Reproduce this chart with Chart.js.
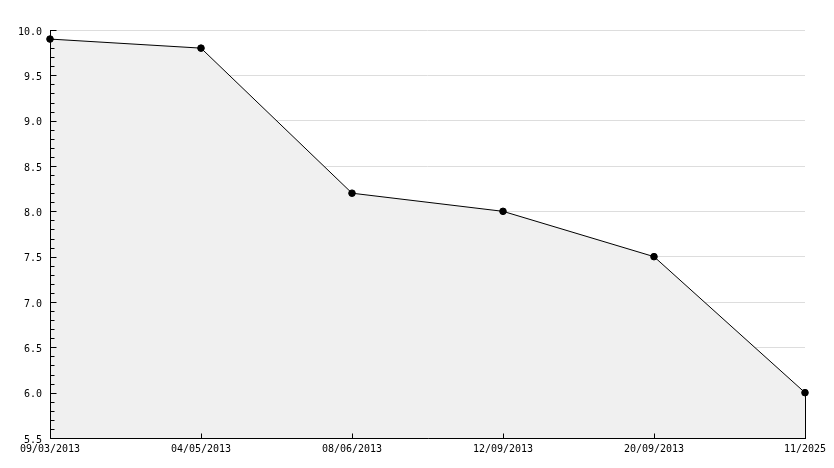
<!DOCTYPE html>
<html>
<head>
<meta charset="utf-8">
<script src="https://cdn.jsdelivr.net/npm/chart.js@4/dist/chart.umd.min.js"></script>
<style>
html,body{margin:0;padding:0;background:#fff;}
canvas{display:block;}
</style>
</head>
<body>
<canvas id="c" width="834" height="468"></canvas>
<script>
const categories = ['09/03/2013', '04/05/2013', '08/06/2013', '12/09/2013', '20/09/2013', '11/2025'];
const values = [9.9, 9.8, 8.2, 8.0, 7.5, 6.0];
const yMin = 5.5;
const yMax = 10.0;
const yMajorStep = 0.5;
const yMinorStep = 0.1;

const FONT = {family: '"DejaVu Sans Mono", monospace', size: 10};

const bgPlugin = {
  id: 'bg',
  beforeDraw(chart) {
    const ctx = chart.ctx;
    ctx.save();
    ctx.fillStyle = '#fff';
    ctx.fillRect(0, 0, chart.width, chart.height);
    ctx.restore();
  }
};

const axesPlugin = {
  id: 'axesDecor',
  afterDatasetsDraw(chart) {
    const ctx = chart.ctx;
    const a = chart.chartArea;
    const xs = chart.scales.x, ys = chart.scales.y;
    ctx.save();
    ctx.strokeStyle = '#000';
    ctx.lineWidth = 1;
    ctx.beginPath();
    const L = Math.round(a.left) + 0.5;
    const B = Math.round(a.bottom) + 0.5;
    ctx.moveTo(L, Math.round(a.top));
    ctx.lineTo(L, B);
    ctx.moveTo(L, B);
    ctx.lineTo(Math.round(a.right) + 1, B);
    const n = Math.round((yMax - yMin) / yMinorStep);
    const per = Math.round(yMajorStep / yMinorStep);
    for (let i = 0; i <= n; i++) {
      const v = yMin + i * yMinorStep;
      const py = Math.round(ys.getPixelForValue(v)) + 0.5;
      const major = (i % per) === 0;
      ctx.moveTo(L, py);
      ctx.lineTo(L + (major ? 6 : 4), py);
    }
    for (let i = 0; i < categories.length; i++) {
      const px = Math.round(xs.getPixelForValue(i)) + 0.5;
      ctx.moveTo(px, B);
      ctx.lineTo(px, B - 5);
    }
    const meta = chart.getDatasetMeta(0);
    const last = meta.data[meta.data.length - 1];
    const lx = Math.round(last.x) + 0.5;
    ctx.moveTo(lx, last.y);
    ctx.lineTo(lx, B);
    ctx.stroke();
    ctx.restore();
  }
};

new Chart(document.getElementById('c'), {
  type: 'line',
  data: {
    labels: categories,
    datasets: [{
      data: values,
      borderColor: '#000',
      borderWidth: 1,
      backgroundColor: '#f0f0f0',
      fill: 'start',
      tension: 0,
      pointRadius: 3.3,
      pointStyle: 'circle',
      pointBackgroundColor: '#000',
      pointBorderColor: '#000',
      pointBorderWidth: 1,
      clip: false
    }]
  },
  options: {
    responsive: false,
    animation: false,
    events: [],
    layout: {padding: {top: 30, right: 29, left: 0, bottom: 0}},
    plugins: {legend: {display: false}, tooltip: {enabled: false}},
    scales: {
      x: {
        offset: false,
        grid: {display: false, drawTicks: false},
        border: {display: false},
        ticks: {font: FONT, color: '#000', maxRotation: 0, autoSkip: false, padding: 5},
        afterFit(s) { s.height = 30; }
      },
      y: {
        min: yMin,
        max: yMax,
        grid: {color: '#dddddd', drawTicks: false, lineWidth: 1},
        border: {display: false},
        ticks: {
          stepSize: yMajorStep,
          font: FONT,
          color: '#000',
          padding: 8,
          labelOffset: 2,
          callback: v => Number(v).toFixed(1)
        },
        afterFit(s) { s.width = 50; }
      }
    }
  },
  plugins: [bgPlugin, axesPlugin]
});
</script>
</body>
</html>
